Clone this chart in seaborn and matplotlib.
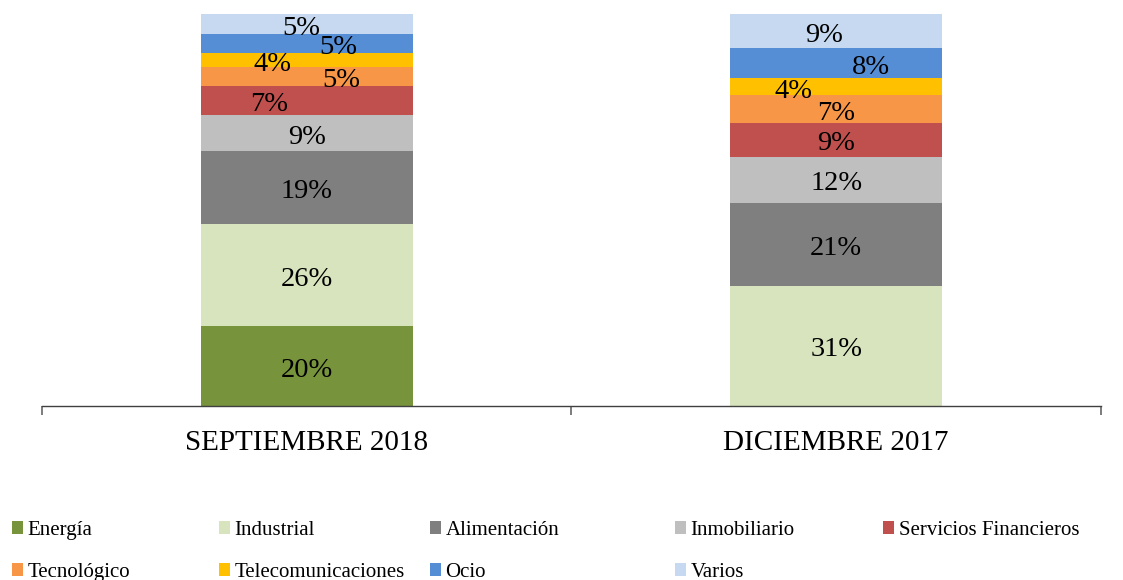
import matplotlib
matplotlib.use("Agg")
import matplotlib.pyplot as plt
from matplotlib.patches import Patch
import seaborn as sns
import numpy as np

# ---- data ----
categories = ["SEPTIEMBRE 2018", "DICIEMBRE 2017"]
sectors = ["Energía", "Industrial", "Alimentación", "Inmobiliario",
           "Servicios Financieros", "Tecnológico", "Telecomunicaciones",
           "Ocio", "Varios"]
sept_2018 = [20.3, 26.1, 18.6, 9.2, 7.4, 4.8, 3.6, 4.9, 5.1]
dic_2017 = [0.0, 30.7, 21.2, 11.7, 8.7, 6.9, 4.4, 7.7, 8.7]

# ---- styles ----
colors = ["#77933C", "#D7E4BD", "#7F7F7F", "#BFBFBF", "#C0504D",
          "#F79646", "#FFC000", "#558ED5", "#C6D9F1"]
# label x offsets in points per category, per sector
label_dx = [
    [0, 0, 0, 0, -27, 25, -25, 23, -4],
    [0, 0, 0, 0, 0, 0, -31, 25, -9],
]
label_dy = -3

sns.set_style("white")
plt.rcParams["font.family"] = ["Liberation Serif", "DejaVu Serif"]
plt.rcParams["text.color"] = "black"
plt.rcParams["xtick.color"] = "black"

fig = plt.figure(figsize=(11.23, 5.80), dpi=100)
ax = fig.add_axes([0.0374, 0.30, 0.9430, 0.676])

values = np.array([sept_2018, dic_2017])  # shape (cat, sector)
cum = np.zeros(len(categories))
for i, sector in enumerate(sectors):
    vals = values[:, i]
    sns.barplot(x=categories, y=vals, order=categories, bottom=cum,
                color=colors[i], saturation=1, width=0.4, errorbar=None,
                linewidth=0, ax=ax)
    for j in range(len(categories)):
        v = vals[j]
        if v > 0:
            ax.annotate(f"{v:.0f}%", (j, cum[j] + v / 2),
                        xytext=(label_dx[j][i], label_dy),
                        textcoords="offset points", ha="center", va="center",
                        fontsize=20.5, color="black")
    cum = cum + vals

ax.set_xlim(-0.5, 1.5)
ax.set_ylim(0, 100)
ax.set_yticks([])
ax.set_xlabel("")
ax.set_ylabel("")
for s in ["top", "right", "left"]:
    ax.spines[s].set_visible(False)
ax.spines["bottom"].set_color("#404040")
ax.spines["bottom"].set_linewidth(1.0)

ax.set_xticks([0, 1])
ax.set_xticklabels(categories, color="black")
ax.set_xticks([-0.5, 0.5, 1.5], minor=True)
ax.tick_params(axis="x", which="major", length=0, pad=17, labelsize=21,
               labelcolor="black")
ax.tick_params(axis="x", which="minor", length=6.5, width=1.2,
               color="#666666", direction="out", bottom=True)

# ---- legend: 5 columns placed in figure coordinates ----
order_cols = [[0, 5], [1, 6], [2, 7], [3, 8], [4]]
col_x = [12, 219, 430, 675, 883]
for col, xpx in zip(order_cols, col_x):
    handles = [Patch(facecolor=colors[k], edgecolor="none", label=sectors[k])
               for k in col]
    leg = fig.legend(handles=handles, loc="upper left",
                     bbox_to_anchor=(xpx / 1123, 0.102), frameon=False,
                     fontsize=15, handlelength=0.55, handleheight=0.55,
                     handletextpad=0.2, labelspacing=1.1, borderpad=0,
                     borderaxespad=0)
    for t in leg.get_texts():
        t.set_color("black")

fig.savefig("out.png", dpi=100)
